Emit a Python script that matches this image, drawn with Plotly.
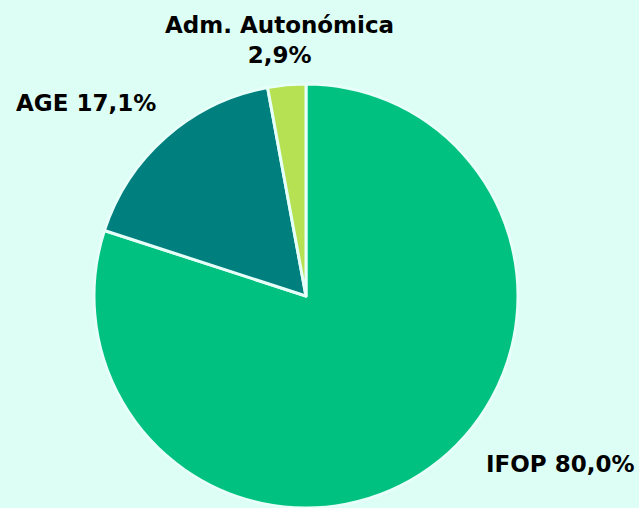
import plotly.graph_objects as go

labels = ["IFOP", "AGE", "Adm. Autonómica"]
values = [80.0, 17.1, 2.9]
colors = ["#00c180", "#007f7f", "#b5e152"]

# where each slice label sits (paper coords) and how its text breaks
label_pos = [(0.876, 0.087), (0.135, 0.797), (0.437, 0.921)]
label_sep = [" ", " ", "<br>"]

fig = go.Figure(go.Pie(
    labels=labels,
    values=values,
    sort=False,
    direction="clockwise",
    rotation=0,
    textinfo="none",
    marker=dict(colors=colors, line=dict(color="#e6fff8", width=3)),
    showlegend=False,
    hoverinfo="label+percent",
    domain=dict(x=[0.1408, 0.8169], y=[0, 0.8346]),
))

total = sum(values)
for lab, val, (x, y), sep in zip(labels, values, label_pos, label_sep):
    pct = f"{val / total * 100:.1f}%".replace(".", ",")
    fig.add_annotation(
        x=x, y=y, xref="paper", yref="paper",
        text=f"<b>{lab}{sep}{pct}</b>",
        showarrow=False,
        xanchor="center", yanchor="middle",
        font=dict(family="DejaVu Sans", size=23, color="#000000"),
    )

fig.update_layout(
    width=639,
    height=508,
    margin=dict(l=0, r=0, t=0, b=0),
    paper_bgcolor="#dcfef5",
    plot_bgcolor="#dcfef5",
)

# drop the default page margin so the chart fills the window
fig.write_html(
    "out.html",
    config={"displayModeBar": False},
    post_script="document.body.style.margin='0';document.body.style.background='#dcfef5';",
)
